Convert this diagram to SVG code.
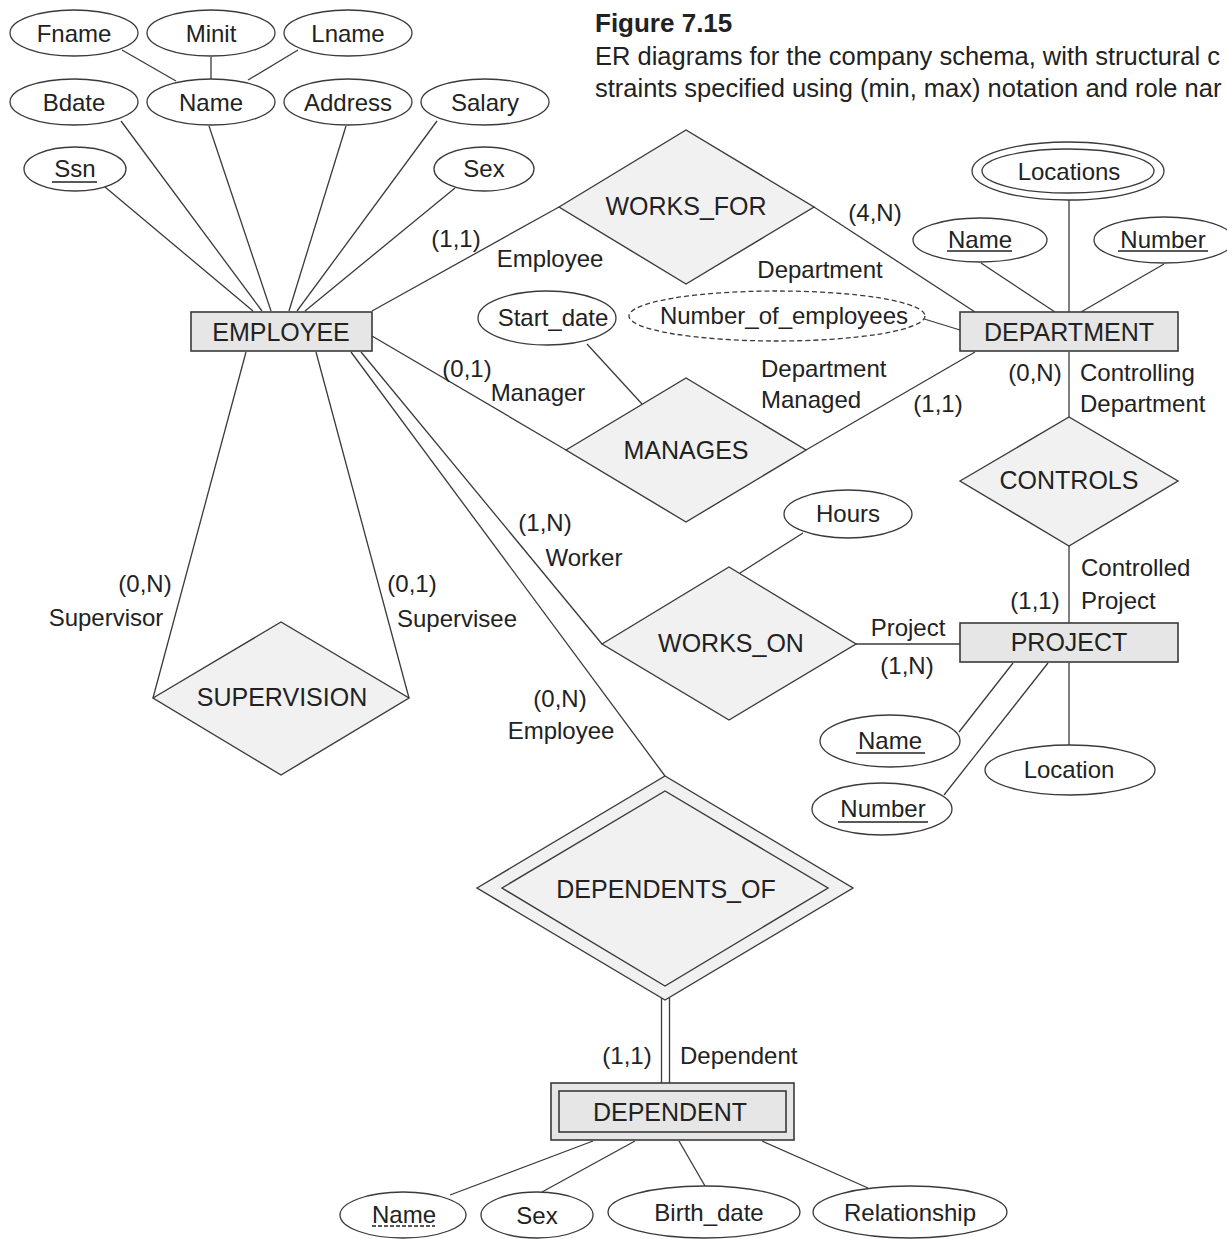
<svg xmlns="http://www.w3.org/2000/svg" width="1227" height="1239" viewBox="0 0 1227 1239">
<style>
  .bg{fill:#ffffff}
  .attr{fill:#ffffff;stroke:#3a3a3a;stroke-width:1.3}
  .derived{fill:#ffffff;stroke:#3a3a3a;stroke-width:1.3;stroke-dasharray:5 3}
  .rel{fill:#f1f1f1;stroke:#3a3a3a;stroke-width:1.4}
  .ent{fill:#e6e6e6;stroke:#3a3a3a;stroke-width:1.6}
  .ln{stroke:#3a3a3a;stroke-width:1.3;fill:none}
  .ul{stroke:#222;stroke-width:1.4}
  .uld{stroke:#222;stroke-width:1.4;stroke-dasharray:4 2}
  text{font-family:"Liberation Sans",Arial,Helvetica,sans-serif;fill:#222222}
  .t{font-size:24px;text-anchor:middle;dominant-baseline:central}
  .n{font-size:25px;text-anchor:middle;dominant-baseline:central}
  .l{font-size:24px;text-anchor:middle;dominant-baseline:central}
  .ls{font-size:24px;text-anchor:start;dominant-baseline:central}
  .cap{font-size:25.5px}
  .fig{font-size:26px;font-weight:bold}
</style>
<rect class="bg" x="0" y="0" width="1227" height="1239"/>

<g id="caption">
  <text class="fig" x="595" y="32">Figure 7.15</text>
  <text class="cap" x="595" y="65">ER diagrams for the company schema, with structural c</text>
  <text class="cap" x="595" y="97">straints specified using (min, max) notation and role nar</text>
</g>

<g id="connectors">
  <line class="ln" x1="122" y1="50" x2="176" y2="81"/>
  <line class="ln" x1="211" y1="57" x2="211" y2="79"/>
  <line class="ln" x1="298" y1="50" x2="248" y2="80"/>
  <line class="ln" x1="121" y1="121" x2="262" y2="311"/>
  <line class="ln" x1="209" y1="126" x2="271" y2="311"/>
  <line class="ln" x1="346" y1="126" x2="289" y2="311"/>
  <line class="ln" x1="437" y1="121" x2="297" y2="311"/>
  <line class="ln" x1="105" y1="187" x2="253" y2="311"/>
  <line class="ln" x1="455" y1="188" x2="305" y2="311"/>
  <line class="ln" x1="372" y1="311" x2="559" y2="207"/>
  <line class="ln" x1="814" y1="207" x2="975" y2="312"/>
  <line class="ln" x1="921" y1="318" x2="960" y2="330"/>
  <line class="ln" x1="587" y1="344" x2="642" y2="404"/>
  <line class="ln" x1="372" y1="336" x2="566" y2="450"/>
  <line class="ln" x1="806" y1="450" x2="975" y2="352"/>
  <line class="ln" x1="1069" y1="200" x2="1069" y2="312"/>
  <line class="ln" x1="981" y1="263" x2="1055" y2="312"/>
  <line class="ln" x1="1164" y1="264" x2="1081" y2="312"/>
  <line class="ln" x1="1069" y1="352" x2="1069" y2="417"/>
  <line class="ln" x1="1069" y1="546" x2="1069" y2="623"/>
  <line class="ln" x1="361" y1="352" x2="602" y2="644"/>
  <line class="ln" x1="351" y1="352" x2="665" y2="776"/>
  <line class="ln" x1="803" y1="533" x2="740" y2="573"/>
  <line class="ln" x1="856" y1="644" x2="960" y2="644"/>
  <line class="ln" x1="1013" y1="663" x2="959" y2="732"/>
  <line class="ln" x1="1048" y1="663" x2="944" y2="795"/>
  <line class="ln" x1="1069" y1="663" x2="1069" y2="745"/>
  <line class="ln" x1="246" y1="352" x2="153" y2="698"/>
  <line class="ln" x1="316" y1="352" x2="409" y2="698"/>
  <line class="ln" x1="661.5" y1="998" x2="661.5" y2="1083"/>
  <line class="ln" x1="669.5" y1="998" x2="669.5" y2="1083"/>
  <line class="ln" x1="593" y1="1141" x2="450" y2="1195"/>
  <line class="ln" x1="635" y1="1141" x2="542" y2="1192"/>
  <line class="ln" x1="679" y1="1141" x2="705" y2="1186"/>
  <line class="ln" x1="762" y1="1141" x2="868" y2="1188"/>
</g>

<g id="employee-attrs">
  <g id="fname"><ellipse class="attr" cx="74" cy="33" rx="64" ry="23"/><text class="t" x="74" y="33">Fname</text></g>
  <g id="minit"><ellipse class="attr" cx="211" cy="33" rx="64" ry="23"/><text class="t" x="211" y="33">Minit</text></g>
  <g id="lname"><ellipse class="attr" cx="348" cy="33" rx="64" ry="23"/><text class="t" x="348" y="33">Lname</text></g>
  <g id="bdate"><ellipse class="attr" cx="74" cy="102" rx="64" ry="23"/><text class="t" x="74" y="102">Bdate</text></g>
  <g id="name"><ellipse class="attr" cx="211" cy="102" rx="64" ry="23"/><text class="t" x="211" y="102">Name</text></g>
  <g id="address"><ellipse class="attr" cx="348" cy="102" rx="64" ry="23"/><text class="t" x="348" y="102">Address</text></g>
  <g id="salary"><ellipse class="attr" cx="485" cy="102" rx="64" ry="23"/><text class="t" x="485" y="102">Salary</text></g>
  <g id="ssn"><ellipse class="attr" cx="75" cy="169" rx="51" ry="22"/><text class="t" x="75" y="168">Ssn</text><line class="ul" x1="52" y1="182" x2="97" y2="182"/></g>
  <g id="sex"><ellipse class="attr" cx="484" cy="169" rx="50" ry="22"/><text class="t" x="484" y="168">Sex</text></g>
</g>

<g id="employee"><rect class="ent" x="191" y="312" width="181" height="39"/><text class="n" x="281" y="332">EMPLOYEE</text></g>

<g id="works_for"><polygon class="rel" points="559,207 686,130 814,207 686,284"/><text class="n" x="686" y="206">WORKS_FOR</text></g>

<g id="department"><rect class="ent" x="960" y="312" width="218" height="39"/><text class="n" x="1069" y="332">DEPARTMENT</text></g>

<g id="dept-attrs">
  <g id="locations"><ellipse class="attr" cx="1068" cy="171" rx="96" ry="29"/><ellipse class="attr" cx="1068" cy="171" rx="86" ry="22"/><text class="t" x="1069" y="171">Locations</text></g>
  <g id="dname"><ellipse class="attr" cx="980" cy="240" rx="67" ry="22"/><text class="t" x="980" y="239">Name</text><line class="ul" x1="947" y1="251" x2="1012" y2="251"/></g>
  <g id="dnumber"><ellipse class="attr" cx="1164" cy="240" rx="70" ry="23"/><text class="t" x="1163" y="239">Number</text><line class="ul" x1="1118" y1="251" x2="1208" y2="251"/></g>
  <g id="num_emp"><ellipse class="derived" cx="777" cy="316" rx="148" ry="25"/><text class="t" x="784" y="315">Number_of_employees</text></g>
</g>

<g id="start_date"><ellipse class="attr" cx="547" cy="318" rx="69" ry="27"/><text class="t" x="553" y="317">Start_date</text></g>

<g id="manages"><polygon class="rel" points="566,450 686,378 806,450 686,522"/><text class="n" x="686" y="450">MANAGES</text></g>

<g id="controls"><polygon class="rel" points="960,481 1069,417 1178,481 1069,546"/><text class="n" x="1069" y="480">CONTROLS</text></g>

<g id="hours"><ellipse class="attr" cx="848" cy="514" rx="64" ry="24"/><text class="t" x="848" y="513">Hours</text></g>

<g id="works_on"><polygon class="rel" points="602,644 729,567 856,644 729,720"/><text class="n" x="731" y="643">WORKS_ON</text></g>

<g id="project"><rect class="ent" x="960" y="623" width="218" height="39"/><text class="n" x="1069" y="642">PROJECT</text></g>

<g id="project-attrs">
  <g id="pname"><ellipse class="attr" cx="890" cy="741" rx="70" ry="26"/><text class="t" x="890" y="740">Name</text><line class="ul" x1="856" y1="753" x2="925" y2="753"/></g>
  <g id="pnumber"><ellipse class="attr" cx="882" cy="809" rx="70" ry="26"/><text class="t" x="883" y="808">Number</text><line class="ul" x1="838" y1="822" x2="928" y2="822"/></g>
  <g id="plocation"><ellipse class="attr" cx="1070" cy="770" rx="85" ry="25"/><text class="t" x="1069" y="769">Location</text></g>
</g>

<g id="supervision"><polygon class="rel" points="153,698 281,622 409,698 281,775"/><text class="n" x="282" y="697">SUPERVISION</text></g>

<g id="dependents_of"><polygon class="rel" points="477,888 665,776 853,888 665,1000"/><polygon class="rel" points="502,888 665,791 828,888 665,986"/><text class="n" x="666" y="889">DEPENDENTS_OF</text></g>

<g id="dependent"><rect class="ent" x="551" y="1083" width="243" height="57"/><rect class="ent" x="559" y="1091" width="227" height="41"/><text class="n" x="670" y="1112">DEPENDENT</text></g>

<g id="dependent-attrs">
  <g id="depname"><ellipse class="attr" cx="403" cy="1215" rx="63" ry="23"/><text class="t" x="404" y="1214">Name</text><line class="uld" x1="372" y1="1226" x2="435" y2="1226"/></g>
  <g id="depsex"><ellipse class="attr" cx="537" cy="1215" rx="56" ry="23"/><text class="t" x="537" y="1215">Sex</text></g>
  <g id="birthdate"><ellipse class="attr" cx="704" cy="1212" rx="96" ry="26"/><text class="t" x="709" y="1212">Birth_date</text></g>
  <g id="relationship"><ellipse class="attr" cx="910" cy="1212" rx="97" ry="26"/><text class="t" x="910" y="1212">Relationship</text></g>
</g>

<g id="role-labels">
  <text class="l" x="456" y="238">(1,1)</text>
  <text class="l" x="550" y="258">Employee</text>
  <text class="l" x="875" y="212">(4,N)</text>
  <text class="l" x="820" y="269">Department</text>
  <text class="l" x="467" y="368">(0,1)</text>
  <text class="l" x="538" y="392">Manager</text>
  <text class="ls" x="761" y="368">Department</text>
  <text class="ls" x="761" y="399">Managed</text>
  <text class="l" x="938" y="403">(1,1)</text>
  <text class="l" x="1035" y="372">(0,N)</text>
  <text class="ls" x="1080" y="372">Controlling</text>
  <text class="ls" x="1080" y="403">Department</text>
  <text class="ls" x="1081" y="567">Controlled</text>
  <text class="l" x="1035" y="600">(1,1)</text>
  <text class="ls" x="1081" y="600">Project</text>
  <text class="l" x="908" y="627">Project</text>
  <text class="l" x="907" y="665">(1,N)</text>
  <text class="l" x="545" y="522">(1,N)</text>
  <text class="l" x="584" y="557">Worker</text>
  <text class="l" x="145" y="583">(0,N)</text>
  <text class="l" x="106" y="617">Supervisor</text>
  <text class="l" x="412" y="583">(0,1)</text>
  <text class="l" x="457" y="618">Supervisee</text>
  <text class="l" x="560" y="698">(0,N)</text>
  <text class="l" x="561" y="730">Employee</text>
  <text class="l" x="627" y="1055">(1,1)</text>
  <text class="ls" x="680" y="1055">Dependent</text>
</g>
</svg>
